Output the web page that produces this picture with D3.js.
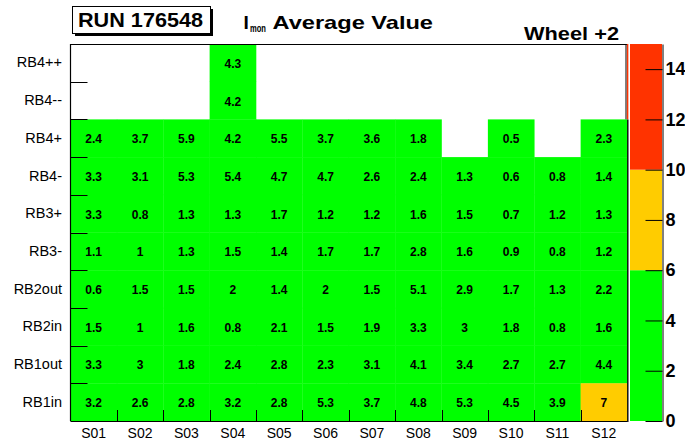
<!DOCTYPE html>
<html>
<head>
<meta charset="utf-8">
<script src="https://cdn.jsdelivr.net/npm/d3@7"></script>
<style>
  html, body { margin: 0; padding: 0; background: #fff; }
  svg { display: block; font-family: "Liberation Sans", Arial, Helvetica, sans-serif; }
</style>
</head>
<body>
<svg id="chart" width="685" height="441"></svg>
<script>
// Sectors (columns) and chambers (rows, top to bottom)
const sectors = ["S01","S02","S03","S04","S05","S06","S07","S08","S09","S10","S11","S12"];
const chambers = ["RB4++","RB4--","RB4+","RB4-","RB3+","RB3-","RB2out","RB2in","RB1out","RB1in"];

// Average Imon per chamber, one value per sector (null = no reading)
const rb4pp  = [null, null, null, 4.3, null, null, null, null, null, null, null, null];
const rb4mm  = [null, null, null, 4.2, null, null, null, null, null, null, null, null];
const rb4p   = [2.4, 3.7, 5.9, 4.2, 5.5, 3.7, 3.6, 1.8, null, 0.5, null, 2.3];
const rb4m   = [3.3, 3.1, 5.3, 5.4, 4.7, 4.7, 2.6, 2.4, 1.3, 0.6, 0.8, 1.4];
const rb3p   = [3.3, 0.8, 1.3, 1.3, 1.7, 1.2, 1.2, 1.6, 1.5, 0.7, 1.2, 1.3];
const rb3m   = [1.1, 1, 1.3, 1.5, 1.4, 1.7, 1.7, 2.8, 1.6, 0.9, 0.8, 1.2];
const rb2out = [0.6, 1.5, 1.5, 2, 1.4, 2, 1.5, 5.1, 2.9, 1.7, 1.3, 2.2];
const rb2in  = [1.5, 1, 1.6, 0.8, 2.1, 1.5, 1.9, 3.3, 3, 1.8, 0.8, 1.6];
const rb1out = [3.3, 3, 1.8, 2.4, 2.8, 2.3, 3.1, 4.1, 3.4, 2.7, 2.7, 4.4];
const rb1in  = [3.2, 2.6, 2.8, 3.2, 2.8, 5.3, 3.7, 4.8, 5.3, 4.5, 3.9, 7];

const rowValues = [rb4pp, rb4mm, rb4p, rb4m, rb3p, rb3m, rb2out, rb2in, rb1out, rb1in];

// Colour scale thresholds and palette axis ticks
const thresholds = [6, 10];
const zoneColors = ["#00ff00", "#ffcc00", "#ff3300"];
const zRange = [0, 15];
const paletteTicks = [0, 2, 4, 6, 8, 10, 12, 14];

const cells = [];
chambers.forEach((ch, i) => {
  rowValues[i].forEach((v, j) => {
    if (v !== null) cells.push({ chamber: ch, sector: sectors[j], value: v });
  });
});

const svg = d3.select("#chart");
const plotL = 70.5, plotR = 627, plotT = 44, plotB = 421;

const x = d3.scaleBand().domain(sectors).range([plotL, plotR]).padding(0);
const y = d3.scaleBand().domain(chambers).range([plotT, plotB]).padding(0);
const color = d3.scaleThreshold().domain(thresholds).range(zoneColors);

// Heatmap cells
svg.append("g")
  .selectAll("rect")
  .data(cells)
  .join("rect")
  .attr("x", d => x(d.sector))
  .attr("y", d => y(d.chamber))
  .attr("width", x.bandwidth() + 0.3)
  .attr("height", y.bandwidth() + 0.3)
  .attr("fill", d => color(d.value));

// Cell value labels
svg.append("g")
  .selectAll("text")
  .data(cells)
  .join("text")
  .attr("x", d => x(d.sector) + x.bandwidth() / 2)
  .attr("y", d => y(d.chamber) + y.bandwidth() / 2 + 5)
  .attr("text-anchor", "middle")
  .attr("font-size", 12)
  .attr("font-weight", "bold")
  .attr("fill", "#000")
  .text(d => String(d.value));

// Row labels
const yAxis = svg.append("g")
  .attr("transform", `translate(${plotL},0)`)
  .call(d3.axisLeft(y).tickSize(0).tickPadding(8.5));
yAxis.select(".domain").remove();
yAxis.selectAll("text").attr("font-size", 14.5).attr("font-family", "'Liberation Sans', Arial, sans-serif").attr("fill", "#000");

// Column labels
const xAxis = svg.append("g")
  .attr("transform", `translate(0,${plotB})`)
  .call(d3.axisBottom(x).tickSize(0).tickPadding(7));
xAxis.select(".domain").remove();
xAxis.selectAll("text").attr("font-size", 14).attr("font-family", "'Liberation Sans', Arial, sans-serif").attr("fill", "#000");

// Ticks at bin edges
const rowEdges = chambers.slice(0, -1).map(c => y(c) + y.bandwidth());
svg.append("g").selectAll("line").data(rowEdges).join("line")
  .attr("x1", plotL).attr("x2", plotL + 17)
  .attr("y1", d => Math.round(d) + 0.5).attr("y2", d => Math.round(d) + 0.5)
  .attr("stroke", "#000").attr("stroke-width", 1);

const colEdges = sectors.slice(0, -1).map(s => x(s) + x.bandwidth());
svg.append("g").selectAll("line").data(colEdges).join("line")
  .attr("x1", d => Math.round(d) + 0.5).attr("x2", d => Math.round(d) + 0.5)
  .attr("y1", plotB).attr("y2", plotB - 11)
  .attr("stroke", "#000").attr("stroke-width", 1);

// Frame
svg.append("line").attr("x1", plotL).attr("x2", plotL).attr("y1", plotT).attr("y2", plotB)
  .attr("stroke", "#000").attr("stroke-width", 1.2);
svg.append("line").attr("x1", plotL).attr("x2", plotR).attr("y1", plotT + 0.5).attr("y2", plotT + 0.5)
  .attr("stroke", "#000").attr("stroke-width", 1);
svg.append("line").attr("x1", plotL).attr("x2", plotR).attr("y1", plotB + 0.5).attr("y2", plotB + 0.5)
  .attr("stroke", "#000").attr("stroke-width", 1);
svg.append("line").attr("x1", 626).attr("x2", 626).attr("y1", plotT).attr("y2", y("RB4+"))
  .attr("stroke", "#000").attr("stroke-width", 1);
svg.append("line").attr("x1", 627.6).attr("x2", 627.6).attr("y1", plotT).attr("y2", y("RB4+"))
  .attr("stroke", "#ff3300").attr("stroke-width", 1.5);
svg.append("line").attr("x1", 627.8).attr("x2", 627.8).attr("y1", y("RB4+")).attr("y2", plotB + 1)
  .attr("stroke", "#000").attr("stroke-width", 1.4);

// Colour palette
const z = d3.scaleLinear().domain(zRange).range([plotB, plotT]);
const paletteBands = [
  { from: zRange[0], to: thresholds[0], c: zoneColors[0] },
  { from: thresholds[0], to: thresholds[1], c: zoneColors[1] },
  { from: thresholds[1], to: zRange[1], c: zoneColors[2] }
];
const palX0 = 630, palX1 = 662;
svg.append("g").selectAll("rect").data(paletteBands).join("rect")
  .attr("x", palX0).attr("width", palX1 - palX0)
  .attr("y", d => z(d.to)).attr("height", d => z(d.from) - z(d.to))
  .attr("fill", d => d.c);

const zAxis = svg.append("g")
  .attr("transform", `translate(${palX1 + 0.5},0)`)
  .call(d3.axisRight(z).tickValues(paletteTicks).tickSize(-17).tickSizeOuter(0).tickPadding(3).tickFormat(d3.format("d")));
zAxis.select(".domain").attr("stroke", "#000").attr("stroke-width", 1);
zAxis.selectAll(".tick line").attr("stroke", "#000");
zAxis.selectAll("text").attr("font-size", 18).attr("font-weight", "bold")
  .attr("font-family", "'Liberation Sans', Arial, sans-serif").attr("fill", "#000");

// Run number box with shadow
svg.append("rect").attr("x", 75).attr("y", 9).attr("width", 138).attr("height", 27).attr("fill", "#000");
svg.append("rect").attr("x", 72.5).attr("y", 6.5).attr("width", 138).attr("height", 27)
  .attr("fill", "#fff").attr("stroke", "#000").attr("stroke-width", 1);
svg.append("text").attr("x", 78).attr("y", 27)
  .attr("font-size", 20).attr("font-weight", "bold")
  .attr("textLength", 125).attr("lengthAdjust", "spacingAndGlyphs")
  .text("RUN 176548");

// Title with subscript
svg.append("text").attr("x", 243.5).attr("y", 28.5)
  .attr("font-size", 19).attr("font-weight", "bold").text("I");
svg.append("text").attr("x", 250).attr("y", 32)
  .attr("font-size", 11).attr("font-weight", "bold")
  .attr("textLength", 16).attr("lengthAdjust", "spacingAndGlyphs").text("mon");
svg.append("text").attr("x", 272.5).attr("y", 28.5)
  .attr("font-size", 19).attr("font-weight", "bold")
  .attr("textLength", 160.5).attr("lengthAdjust", "spacingAndGlyphs").text("Average Value");

svg.append("text").attr("x", 524).attr("y", 39.5)
  .attr("font-size", 18.5).attr("font-weight", "bold")
  .attr("textLength", 95).attr("lengthAdjust", "spacingAndGlyphs").text("Wheel +2");
</script>
</body>
</html>
